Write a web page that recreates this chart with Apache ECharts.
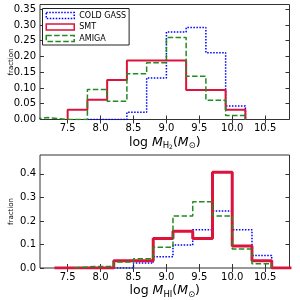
<!DOCTYPE html>
<html>
<head>
<meta charset="utf-8">
<script src="https://cdn.jsdelivr.net/npm/echarts@6/dist/echarts.min.js"></script>
<style>html,body{margin:0;padding:0;background:#fff}#c{width:300px;height:300px}</style>
</head>
<body>
<div id="c"></div>
<script>
// ---- data ----
const topEdges = [6.9, 7.2, 7.5, 7.8, 8.1, 8.4, 8.7, 9.0, 9.3, 9.6, 9.9, 10.2];
const coldTop  = [null, null, null, 0, 0, 0.023, 0.132, 0.278, 0.292, 0.212, 0.043];
const smtTop   = [null, null, 0.03125, 0.0625, 0.125, 0.1875, 0.1875, 0.1875, 0.09375, 0.09375, 0.03125];
const amigaTop = [0.006, 0, 0, 0.095, 0.058, 0.145, 0.18, 0.26, 0.137, 0.061, 0.013];

const botEdges = [7.3, 7.6, 7.9, 8.2, 8.5, 8.8, 9.1, 9.4, 9.7, 10.0, 10.3, 10.6, 10.9];
const coldBot  = [null, null, null, 0, 0.021, 0.048, 0.098, 0.162, 0.242, 0.162, 0.053, null];
const smtBot   = [0, 0, 0, 0.03125, 0.03125, 0.125, 0.15625, 0.125, 0.40625, 0.09375, 0.03125, 0];
const amigaBot = [null, 0.006, 0.006, 0.025, 0.039, 0.088, 0.221, 0.281, 0.221, 0.081, 0.018, null];

const xTicks = [7.5, 8.0, 8.5, 9.0, 9.5, 10.0, 10.5];
const yTicksTop = [0, 0.05, 0.10, 0.15, 0.20, 0.25, 0.30, 0.35];
const yTicksBot = [0, 0.1, 0.2, 0.3, 0.4];
const seriesNames = ['COLD GASS', 'SMT', 'AMIGA'];

// ---- helpers ----
function stepPath(edges, vals) {
  const pts = [];
  let started = false;
  for (let i = 0; i < vals.length; i++) {
    const v = vals[i];
    if (v === null) { if (started) { pts.push([edges[i], 0]); started = false; pts.push([edges[i], null]); } continue; }
    if (!started) { pts.push([edges[i], 0]); started = true; }
    pts.push([edges[i], v]);
    pts.push([edges[i + 1], v]);
  }
  if (started) pts.push([edges[vals.length], 0]);
  return pts;
}

const FONT = 'DejaVu Sans';
const FRAME = '#333';
const BLUE = '#0000ff', RED = '#dc143c', GREEN = '#228b22';

function xAxesFor(gi, nameRich) {
  const base = {
    type: 'value', gridIndex: gi, min: 7.08, max: 10.87,
    axisLine: { show: false }, splitLine: { show: false },
    axisTick: { inside: true, length: 4, lineStyle: { color: FRAME }, customValues: xTicks }
  };
  return [
    Object.assign({}, base, {
      position: 'bottom',
      axisLabel: { customValues: xTicks, margin: 4, fontSize: 10, fontFamily: FONT, color: '#000',
        formatter: v => v.toFixed(1) },
      name: nameRich, nameLocation: 'middle', nameGap: 15, nameMoveOverlap: false,
      nameTextStyle: {
        fontFamily: FONT, color: '#000',
        rich: {
          n: { fontSize: 12.5, fontFamily: FONT, color: '#000', lineHeight: 16 },
          i: { fontSize: 12.5, fontFamily: FONT, fontStyle: 'italic', color: '#000', lineHeight: 16 },
          s: { fontSize: 8.5, fontFamily: FONT, color: '#000', verticalAlign: 'bottom', lineHeight: 9 },
          ss: { fontSize: 6, fontFamily: FONT, color: '#000', verticalAlign: 'bottom', lineHeight: 6 }
        }
      }
    }),
    Object.assign({}, base, { position: 'top', axisLabel: { show: false } })
  ];
}

function yAxesFor(gi, max, ticks, dec) {
  const base = {
    type: 'value', gridIndex: gi, min: 0, max: max,
    axisLine: { show: false }, splitLine: { show: false },
    axisTick: { inside: true, length: 4, lineStyle: { color: FRAME }, customValues: ticks }
  };
  return [
    Object.assign({}, base, {
      position: 'left',
      axisLabel: { customValues: ticks, margin: 4, fontSize: 10, fontFamily: FONT, color: '#000',
        hideOverlap: false, formatter: v => v.toFixed(dec) },
      name: 'fraction', nameLocation: 'middle', nameGap: 25, nameMoveOverlap: false,
      nameTextStyle: { fontSize: 7, fontFamily: FONT, color: '#000' }
    }),
    Object.assign({}, base, { position: 'right', axisLabel: { show: false } })
  ];
}

function mkSeries(name, xi, yi, pts, color, width, type) {
  return {
    name: name, type: 'line', xAxisIndex: xi, yAxisIndex: yi, data: pts,
    showSymbol: false, symbol: 'none', connectNulls: false, clip: true,
    lineStyle: { color: color, width: width, type: type }, itemStyle: { color: color },
    emphasis: { disabled: true }, animation: false
  };
}

const chart = echarts.init(document.getElementById('c'), null, { renderer: 'canvas' });
chart.setOption({
  animation: false,
  backgroundColor: '#fff',
  grid: [
    { left: 38.5, right: 10.5, top: 4.5, bottom: 180.5, show: true, borderColor: FRAME, borderWidth: 1, backgroundColor: 'transparent' },
    { left: 38.5, right: 10.5, top: 155, bottom: 31, show: true, borderColor: FRAME, borderWidth: 1, backgroundColor: 'transparent' }
  ],
  xAxis: [].concat(
    xAxesFor(0, '{n|log }{i|M}{s|H}{ss|2}{n|(}{i|M}{s|⊙}{n|)}'),
    xAxesFor(1, '{n|log }{i|M}{s|HI}{n|(}{i|M}{s|⊙}{n|)}')
  ),
  yAxis: [].concat(
    yAxesFor(0, 0.365, yTicksTop, 2),
    yAxesFor(1, 0.48, yTicksBot, 1)
  ),
  legend: {
    orient: 'vertical', left: 42.5, top: 8.5, padding: [2.5, 3, 2, 3],
    itemWidth: 28, itemHeight: 6, itemGap: 2.5,
    borderColor: '#222', borderWidth: 1, borderRadius: 0, backgroundColor: '#fff',
    selectedMode: false,
    textStyle: { fontSize: 8, fontFamily: FONT, color: '#000', lineHeight: 9 },
    data: [
      { name: seriesNames[0], icon: 'rect', itemStyle: { color: 'transparent', borderColor: BLUE, borderWidth: 1.5, borderType: [1.5, 1.5] } },
      { name: seriesNames[1], icon: 'rect', itemStyle: { color: 'transparent', borderColor: RED, borderWidth: 1.5, borderType: 'solid' } },
      { name: seriesNames[2], icon: 'rect', itemStyle: { color: 'transparent', borderColor: GREEN, borderWidth: 1.5, borderType: [5.5, 2.4] } }
    ]
  },
  series: [
    mkSeries(seriesNames[0], 0, 0, stepPath(topEdges, coldTop), BLUE, 1.5, [1.5, 1.5]),
    mkSeries(seriesNames[1], 0, 0, stepPath(topEdges, smtTop), RED, 2, 'solid'),
    mkSeries(seriesNames[2], 0, 0, stepPath(topEdges, amigaTop), GREEN, 1.5, [5.5, 2.4]),
    mkSeries(seriesNames[0], 2, 2, stepPath(botEdges, coldBot), BLUE, 1.5, [1.5, 1.5]),
    mkSeries(seriesNames[1], 2, 2, stepPath(botEdges, smtBot), RED, 3, 'solid'),
    mkSeries(seriesNames[2], 2, 2, stepPath(botEdges, amigaBot), GREEN, 1.5, [5.5, 2.4])
  ]
});
</script>
</body>
</html>
